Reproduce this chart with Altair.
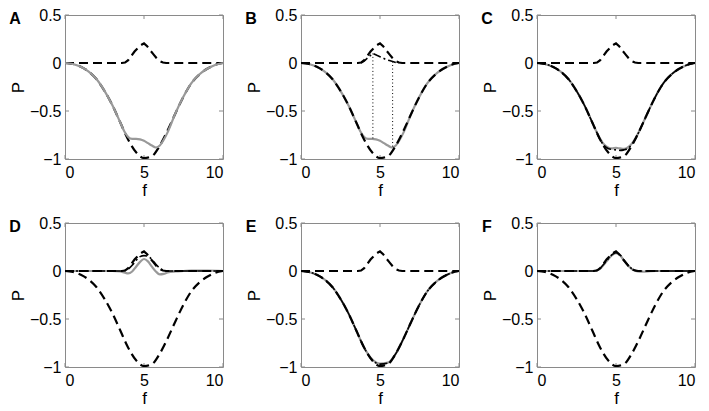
import altair as alt
import pandas as pd

# ---------------- data ----------------
F_DIP = [0, 0.5, 1, 1.5, 2, 2.5, 3, 3.5, 4, 4.5, 5, 5.5, 6, 6.5, 7, 7.5, 8, 8.5, 9, 9.5, 10]
DIP = [0, -0.01, -0.04, -0.09, -0.17, -0.29, -0.44, -0.62, -0.80, -0.93, -0.99,
       -0.97, -0.86, -0.70, -0.52, -0.35, -0.21, -0.12, -0.06, -0.02, 0]

F_BUMP = [0, 3.6, 3.8, 4.0, 4.2, 4.4, 4.6, 4.8, 5.0, 5.2, 5.4, 5.6, 5.8, 6.0, 6.2, 6.4, 10]
BUMP = [0, 0, 0.005, 0.03, 0.075, 0.12, 0.155, 0.185, 0.205, 0.175, 0.13, 0.09, 0.05,
        0.02, 0.005, 0, 0]

F_FINE = [0, 0.5, 1, 1.5, 2, 2.5, 3, 3.5, 3.75, 4, 4.25, 4.5, 4.75, 5, 5.25, 5.5,
          5.75, 6, 6.25, 6.5, 7, 7.5, 8, 8.5, 9, 9.5, 10]
GRAY_AB = [0, -0.01, -0.04, -0.09, -0.17, -0.29, -0.44, -0.62, -0.71, -0.77, -0.79,
           -0.79, -0.795, -0.81, -0.835, -0.86, -0.88, -0.86, -0.80, -0.72, -0.52,
           -0.35, -0.21, -0.12, -0.06, -0.02, 0]

F_B2 = [3.8, 4.0, 4.2, 4.4, 4.55, 4.8, 5.0, 5.2, 5.4, 5.6, 5.8, 6.0, 6.2]
DD_B = [0, 0.02, 0.05, 0.08, 0.10, 0.08, 0.065, 0.05, 0.035, 0.025, 0.015, 0.005, 0]
F_DOT = [4.55, 5.8]
DOT_TOP = [0.10, 0.015]
DOT_BOT = [-0.79, -0.88]

GRAY_C = [0, -0.01, -0.04, -0.09, -0.17, -0.29, -0.44, -0.62, -0.71, -0.79, -0.85,
          -0.88, -0.89, -0.885, -0.89, -0.895, -0.88, -0.84, -0.78, -0.70, -0.52,
          -0.35, -0.21, -0.12, -0.06, -0.02, 0]
DD_C = [0, -0.01, -0.04, -0.09, -0.17, -0.29, -0.44, -0.62, -0.71, -0.80, -0.86,
        -0.89, -0.90, -0.905, -0.91, -0.905, -0.89, -0.85, -0.785, -0.70, -0.52,
        -0.35, -0.21, -0.12, -0.06, -0.02, 0]

F_PEAK = [0, 1, 2, 3, 3.5, 3.75, 4, 4.25, 4.5, 4.75, 5, 5.25, 5.5, 5.75, 6, 6.25,
          6.5, 7, 7.5, 8, 9, 10]
GRAY_D = [0, 0, 0, 0, -0.005, -0.015, -0.025, -0.005, 0.045, 0.095, 0.125, 0.10,
          0.045, -0.005, -0.035, -0.03, -0.015, -0.005, 0, 0.005, 0.005, 0]
DD_D = [0, 0, 0, 0, 0, 0.005, 0.02, 0.06, 0.11, 0.15, 0.16, 0.155, 0.12, 0.07, 0.03,
        0.005, 0, 0, 0, 0, 0, 0]

GRAY_E = [0, -0.01, -0.04, -0.09, -0.17, -0.29, -0.44, -0.62, -0.80, -0.92, -0.965,
          -0.955, -0.86, -0.70, -0.52, -0.35, -0.21, -0.12, -0.06, -0.02, 0]
DD_E = [0, -0.01, -0.04, -0.09, -0.17, -0.29, -0.44, -0.62, -0.80, -0.925, -0.97,
        -0.96, -0.86, -0.70, -0.52, -0.35, -0.21, -0.12, -0.06, -0.02, 0]

GRAY_F = [0, 0, 0, 0, 0, 0.005, 0.025, 0.07, 0.12, 0.165, 0.185, 0.165, 0.11, 0.06,
          0.02, 0.0, -0.008, -0.004, 0, 0, 0, 0]
DD_F = [0, 0, 0, 0, 0, 0.005, 0.03, 0.075, 0.125, 0.17, 0.19, 0.17, 0.115, 0.065,
        0.025, 0.005, 0, 0, 0, 0, 0, 0]

X_TICKS = [0, 5, 10]
Y_TICKS = [-1, -0.5, 0, 0.5]
LETTERS = ["A", "B", "C", "D", "E", "F"]

# ---------------- styling ----------------
W, H = 158, 144
FRAME = "#8a8a8a"
GRAY = "#999999"
FONT = "Liberation Sans"
DASH = [9, 5]
DASHDOT = [8, 3, 2, 3]

XS = alt.Scale(domain=[0, 10], nice=False, zero=False)
YS = alt.Scale(domain=[-1, 0.5], nice=False, zero=False)
XA = alt.Axis(values=X_TICKS, title="f", format="d", labelPadding=5, titlePadding=2)
YA = alt.Axis(values=Y_TICKS, title="P", format="~r", labelPadding=4, titlePadding=2)


def X():
    return alt.X("f:Q", scale=XS, axis=XA)


def Y(field="P:Q"):
    return alt.Y(field, scale=YS, axis=YA)


def curve(fs, ps, color, width, dash=None, interp="monotone"):
    kw = dict(color=color, strokeWidth=width, interpolate=interp, clip=True)
    if dash:
        kw["strokeDash"] = dash
    return alt.Chart(pd.DataFrame({"f": fs, "P": ps})).mark_line(**kw).encode(x=X(), y=Y())


def dip():
    return curve(F_DIP, DIP, "black", 2.2, DASH)


def bump():
    return curve(F_BUMP, BUMP, "black", 2.2, DASH, "linear")


def ticks():
    xt = alt.Chart(pd.DataFrame({"f": X_TICKS}))
    yt = alt.Chart(pd.DataFrame({"P": Y_TICKS}))
    m = dict(color=FRAME, strokeWidth=1)
    return [
        xt.mark_rule(**m).encode(x=X(), y=alt.value(H), y2=alt.value(H - 4)),
        xt.mark_rule(**m).encode(x=X(), y=alt.value(0), y2=alt.value(4)),
        yt.mark_rule(**m).encode(y=Y(), x=alt.value(0), x2=alt.value(4)),
        yt.mark_rule(**m).encode(y=Y(), x=alt.value(W - 4), x2=alt.value(W)),
    ]


def letter(t):
    return alt.Chart(pd.DataFrame({"t": [t]})).mark_text(
        font=FONT, fontSize=16, fontWeight="bold", align="center", baseline="middle"
    ).encode(text="t:N", x=alt.value(-50), y=alt.value(4))


def panel(layers, t):
    return alt.layer(*ticks(), *layers, letter(t)).properties(width=W, height=H)


pA = panel([dip(), bump(), curve(F_FINE, GRAY_AB, GRAY, 2.2)], LETTERS[0])

dots = alt.Chart(pd.DataFrame({"f": F_DOT, "P": DOT_TOP, "P2": DOT_BOT})).mark_rule(
    color="black", strokeWidth=1, strokeDash=[1, 2.5]
).encode(x=X(), y=Y(), y2="P2:Q")
pB = panel([curve(F_FINE, GRAY_AB, GRAY, 2.2), dots, dip(), bump(),
            curve(F_B2, DD_B, "black", 1.6, DASHDOT, "linear")], LETTERS[1])

pC = panel([curve(F_FINE, GRAY_C, GRAY, 2.2), dip(), bump(),
            curve(F_FINE, DD_C, "black", 1.6, DASHDOT)], LETTERS[2])

pD = panel([curve(F_PEAK, GRAY_D, GRAY, 2.2), dip(), bump(),
            curve(F_PEAK, DD_D, "black", 1.6, DASHDOT)], LETTERS[3])

pE = panel([curve(F_DIP, GRAY_E, GRAY, 2.2), dip(), bump(),
            curve(F_DIP, DD_E, "black", 1.6, DASHDOT)], LETTERS[4])

pF = panel([curve(F_PEAK, GRAY_F, GRAY, 2.2), dip(), bump(),
            curve(F_PEAK, DD_F, "black", 1.6, DASHDOT)], LETTERS[5])

chart = alt.concat(
    pA, pB, pC, pD, pE, pF, columns=3,
    spacing={"row": 64, "column": 78}, bounds="flush"
).properties(
    padding={"left": 0, "top": -2, "right": 0, "bottom": 0}
).configure_view(
    stroke=FRAME, strokeWidth=1
).configure_axis(
    labelFont=FONT, labelFontSize=16, titleFont=FONT, titleFontSize=17,
    titleFontWeight="normal", labelColor="black", titleColor="black",
    grid=False, domain=False, ticks=False, tickSize=0
)

chart.save("out.html", embed_options={"renderer": "svg", "actions": False})
